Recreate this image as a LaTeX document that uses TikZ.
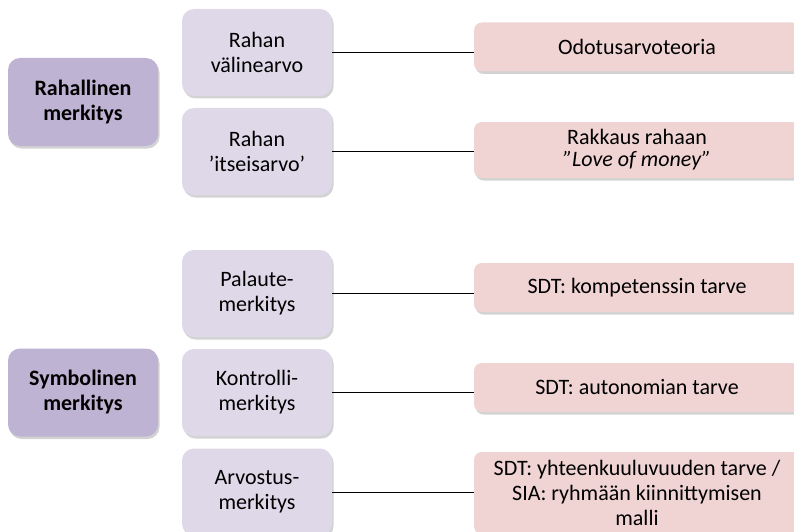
\documentclass[tikz,border=0pt]{standalone}
\usepackage{fontspec}
\setmainfont{Carlito}
\usetikzlibrary{shadows}
\definecolor{mylilac}{RGB}{191,179,211}
\definecolor{mylavender}{RGB}{222,216,232}
\definecolor{mypink}{RGB}{240,211,211}

\begin{document}
\begin{tikzpicture}[
  x=1pt, y=-1pt,
  mybox/.style={
    rectangle,
    rounded corners=12pt,
    align=center,
    inner sep=2pt,
    font=\fontsize{22}{25}\selectfont,
    drop shadow={opacity=0.35, shadow xshift=1.5pt, shadow yshift=-2.5pt}
    },
  mainbox/.style={
    mybox,
    fill=mylilac,
    minimum width=150pt,
    minimum height=88pt,
    font=\fontsize{22}{25}\selectfont\bfseries
    },
  subbox/.style={
    mybox,
    fill=mylavender,
    minimum width=150pt,
    minimum height=87pt
    },
  theorybox/.style={
    mybox,
    rounded corners=8pt,
    fill=mypink,
    minimum width=326pt,
    minimum height=#1
    },
  link/.style={draw=black, line width=1pt}
]
\useasboundingbox (0,0) rectangle (794,532);
\clip (0,0) rectangle (794,532);

% main categories
\node[mainbox] (rahallinen) at (83,102) {Rahallinen\\merkitys};
\node[mainbox] (symbolinen) at (83,392.5) {Symbolinen\\merkitys};

% sub meanings
\node[subbox] (valine) at (257,52.5) {Rahan\\välinearvo};
\node[subbox] (itseis) at (257,151.5) {Rahan\\’itseisarvo’};
\node[subbox] (palaute) at (257,293.5) {Palaute-\\merkitys};
\node[subbox] (kontrolli) at (257,392.5) {Kontrolli-\\merkitys};
\node[subbox] (arvostus) at (257,492) {Arvostus-\\merkitys};

% theories
\node[theorybox=49pt] (odotus) at (637,47) {Odotusarvoteoria};
\node[theorybox=56pt] (rakkaus) at (637,150) {Rakkaus rahaan\\[-3pt]\textit{”Love of money”}};
\node[theorybox=49pt] (kompetenssi) at (637,287.5) {SDT: kompetenssin tarve};
\node[theorybox=49pt] (autonomia) at (637,387.5) {SDT: autonomian tarve};
\node[theorybox=82pt] (yhteen) at (637,493) {SDT: yhteenkuuluvuuden tarve /\\SIA: ryhmään kiinnittymisen\\malli};

\draw[link] (valine.east) -- (valine.east -| odotus.west);
\draw[link] (itseis.east) -- (itseis.east -| rakkaus.west);
\draw[link] (palaute.east) -- (palaute.east -| kompetenssi.west);
\draw[link] (kontrolli.east) -- (kontrolli.east -| autonomia.west);
\draw[link] (arvostus.east) -- (arvostus.east -| yhteen.west);

\end{tikzpicture}
\end{document}
